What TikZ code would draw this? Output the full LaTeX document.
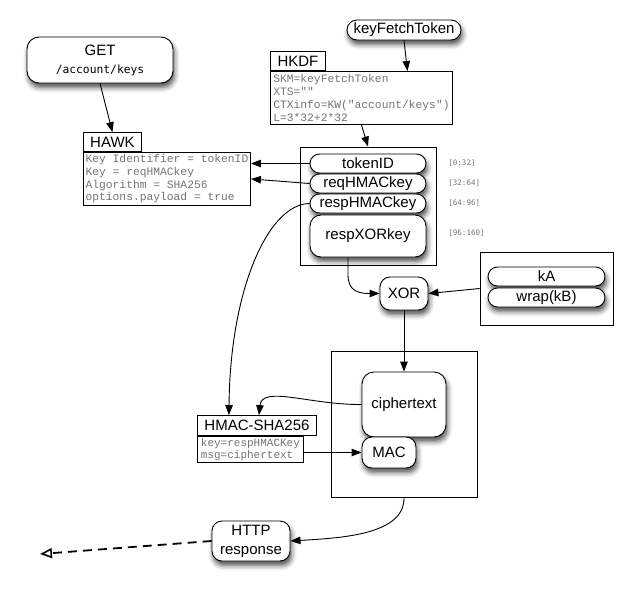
\documentclass[tikz,border=0pt]{standalone}
\usepackage{fontspec}
\setmainfont{Liberation Sans}
\newfontfamily\cour{Liberation Mono}
\newfontfamily\sansmono{DejaVu Sans Mono}
\usetikzlibrary{arrows.meta}
\usetikzlibrary{shadows.blur}
\definecolor{codegray}{gray}{0.45}

\begin{document}
\begin{tikzpicture}[
  x=1pt, y=-1pt, line width=0.9pt,
  >={Triangle[length=10pt,width=7.5pt]},
  every node/.style={draw, inner sep=0pt, font=\fontsize{15}{17}\selectfont},
  rbox/.style={rounded corners=#1, fill=white,
    blur shadow={shadow xshift=1.5pt, shadow yshift=-4.5pt, shadow blur radius=5pt, shadow opacity=70}},
  rbox/.default=10pt,
  title/.style={fill=white, anchor=south west, minimum height=19},
  code/.style={anchor=north west, align=left, inner sep=1.5pt, text=codegray,
    font=\cour\fontsize{11.3}{12.7}\selectfont},
  slice/.style={draw=none, anchor=west, text=codegray, font=\sansmono\fontsize{7.5}{9}\selectfont}
]
\useasboundingbox (0,0) rectangle (630,592);

% request side
\node[rbox=12pt, minimum width=146, minimum height=46, align=center, font=\fontsize{15}{18}\selectfont]
  (get) at (100,60) {GET\\{\sansmono\fontsize{11.3}{13}\selectfont /account/keys}};
\node[code, minimum width=167, minimum height=53] (hawkB) at (83,152)
  {Key Identifier = tokenID\\Key = reqHMACkey\\Algorithm = SHA256\\options.payload = true};
\node[title, minimum width=58] (hawkT) at (83,152) {HAWK};

% key derivation
\node[rbox=10pt, minimum width=114, minimum height=20] (kft) at (404,30) {keyFetchToken};
\node[code, minimum width=182, minimum height=53] (hkdfB) at (270,71)
  {SKM=keyFetchToken\\XTS=""\\CTXinfo=KW("account/keys")\\L=3*32+2*32};
\node[title, minimum width=55] (hkdfT) at (270,71) {HKDF};

\node[minimum width=136, minimum height=118] (keys) at (368,206) {};
\node[rbox=9.5pt, minimum width=116, minimum height=19] (tok) at (368,163.5) {tokenID};
\node[rbox=9.5pt, minimum width=116, minimum height=19] (req) at (368,183.5) {reqHMACkey};
\node[rbox=9.5pt, minimum width=116, minimum height=19] (resp) at (368,203.5) {respHMACkey};
\node[rbox=11pt, minimum width=116, minimum height=42] (xork) at (368,236) {respXORkey};
\node[slice] (s0) at (448,163) {[0:32]};
\node[slice] (s1) at (448,183) {[32:64]};
\node[slice] (s2) at (448,203) {[64:96]};
\node[slice] (s3) at (448,233) {[96:160]};

% encryption
\node[rbox=10pt, minimum width=48, minimum height=33] (xor) at (404,293.5) {XOR};
\node[minimum width=133, minimum height=73] (kbox) at (546.5,288.5) {};
\node[rbox=9.5pt, minimum width=117, minimum height=19] (ka) at (546.5,276.5) {kA};
\node[rbox=9.5pt, minimum width=117, minimum height=19] (wkb) at (546.5,297.5) {wrap(kB)};

\node[minimum width=146, minimum height=146] (bundle) at (404,424) {};
\node[rbox=12pt, minimum width=84, minimum height=65] (ct) at (404,404.5) {ciphertext};
\node[rbox=10pt, minimum width=54, minimum height=31] (mac) at (389,452.5) {MAC};

\node[code, minimum width=106, minimum height=26, font=\cour\fontsize{11}{12.5}\selectfont] (hmacB) at (197,436)
  {key=respHMACKey\\msg=ciphertext};
\node[title, minimum width=119, minimum height=20] (hmacT) at (197,436) {HMAC-SHA256};

\node[rbox=10pt, minimum width=78, minimum height=40, align=center, font=\fontsize{15}{19}\selectfont]
  (http) at (251,541) {HTTP\\response};
\coordinate (out) at (40,554);

% connectors
\draw[->] (get.south) -- (hawkT.north);
\draw[->] (kft.south) -- ([xshift=46pt]hkdfB.north);
\draw[->] (hkdfB.south) -- (keys.north);
\draw[->] (tok.west) -- (tok.west -| hawkB.east);
\draw[->] (req.west) -- (hawkB.east);
\draw[->] (resp.west) .. controls (268,204) and (230,290) .. ([xshift=-28pt]hmacT.north);
\draw[->] ([xshift=-20pt]xork.south) -- (348,275) .. controls (348,292) and (360,293.5) .. (xor.west);
\draw[->] (kbox.west) -- (xor.east);
\draw[->] (xor.south) -- (ct.north);
\draw[->] (ct.west) .. controls (310,405) and (262,385) .. ([xshift=2pt]hmacT.north);
\draw[->] (hmacB.east |- mac.west) -- (mac.west);
\draw[->] (bundle.south) .. controls (405,535) and (340,538) .. (http.east);
\draw[dash pattern=on 9pt off 6pt, line width=1.8pt,
  -{Triangle[open,length=12pt,width=10pt,line width=1.6pt]}] (http.west) -- (out);
\end{tikzpicture}
\end{document}
